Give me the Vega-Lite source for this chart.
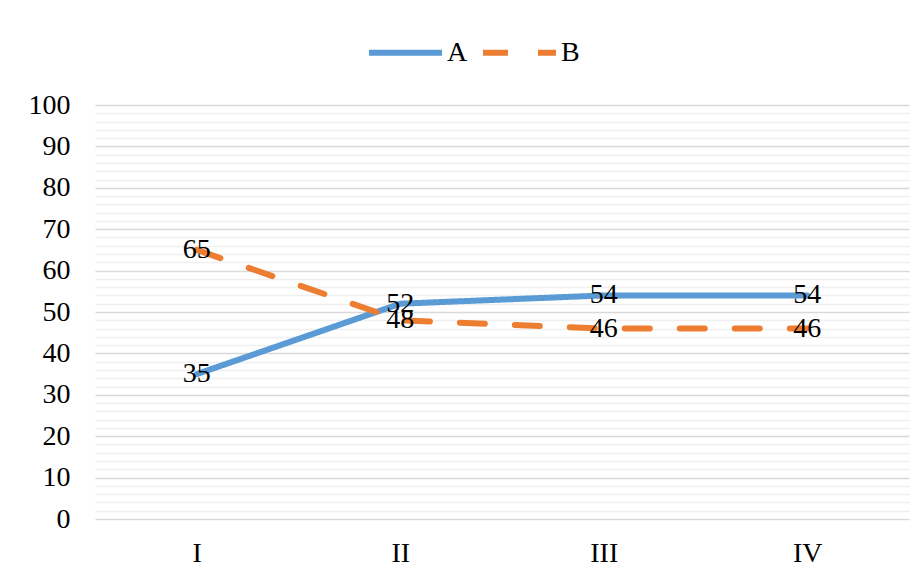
{
  "$schema": "https://vega.github.io/schema/vega-lite/v6.json",
  "autosize": {"type": "none"},
  "width": 814,
  "height": 414,
  "padding": {"left": 95, "top": 105, "right": 14, "bottom": 59},
  "background": "white",
  "config": {"view": {"stroke": null}, "font": "Liberation Serif"},
  "data": {"values": [
    {"q": "I", "s": "A", "v": 35},
    {"q": "II", "s": "A", "v": 52},
    {"q": "III", "s": "A", "v": 54},
    {"q": "IV", "s": "A", "v": 54},
    {"q": "I", "s": "B", "v": 65},
    {"q": "II", "s": "B", "v": 48},
    {"q": "III", "s": "B", "v": 46},
    {"q": "IV", "s": "B", "v": 46}
  ]},
  "layer": [
    {
      "mark": {"type": "line", "strokeWidth": 6, "strokeCap": "round", "strokeJoin": "round"},
      "encoding": {
        "x": {"field": "q", "type": "ordinal", "sort": ["I", "II", "III", "IV"],
          "scale": {"type": "point", "padding": 0.5},
          "axis": {"title": null, "labelAngle": 0, "domain": false, "ticks": false, "tickSize": 0, "grid": false,
            "labelFontSize": 28, "labelFont": "Liberation Serif", "labelColor": "black", "labelPadding": 20}},
        "y": {"field": "v", "type": "quantitative", "scale": {"domain": [0, 100], "nice": false},
          "axis": {"orient": "left", "title": null, "labels": false, "domain": false, "ticks": false, "tickSize": 0,
            "values": [2,4,6,8,12,14,16,18,22,24,26,28,32,34,36,38,42,44,46,48,52,54,56,58,62,64,66,68,72,74,76,78,82,84,86,88,92,94,96,98],
            "grid": true, "gridColor": "#efefef", "gridWidth": 1.3}},
        "color": {"field": "s", "type": "nominal", "scale": {"domain": ["A", "B"], "range": ["#5b9bd5", "#ed7d31"]},
          "legend": {"title": null, "orient": "none", "direction": "horizontal", "legendX": 271, "legendY": -92,
            "symbolType": "stroke", "symbolSize": 5329, "symbolStrokeWidth": 6, "labelFontSize": 28,
            "labelFont": "Liberation Serif", "labelColor": "black", "labelOffset": 2, "columnPadding": 3}},
        "strokeDash": {"field": "s", "type": "nominal", "scale": {"domain": ["A", "B"], "range": [[1, 0], [25, 30]]},
          "legend": {"title": null, "orient": "none", "direction": "horizontal", "legendX": 271, "legendY": -92,
            "symbolType": "stroke", "symbolSize": 5329, "symbolStrokeWidth": 6, "labelFontSize": 28,
            "labelFont": "Liberation Serif", "labelColor": "black", "labelOffset": 2, "columnPadding": 3}}
      }
    },
    {
      "mark": {"type": "text", "fontSize": 28, "font": "Liberation Serif", "color": "black", "align": "center", "baseline": "middle"},
      "encoding": {
        "x": {"field": "q", "type": "ordinal", "sort": ["I", "II", "III", "IV"]},
        "y": {"field": "v", "type": "quantitative",
          "axis": {"orient": "left", "title": null, "domain": false, "ticks": false, "tickSize": 0,
            "values": [0,10,20,30,40,50,60,70,80,90,100],
            "grid": true, "gridColor": "#d9d9d9", "gridWidth": 1.5,
            "labelFontSize": 28, "labelFont": "Liberation Serif", "labelColor": "black", "labelPadding": 25}},
        "text": {"field": "v", "type": "quantitative"}
      }
    }
  ],
  "resolve": {"axis": {"y": "independent"}}
}
